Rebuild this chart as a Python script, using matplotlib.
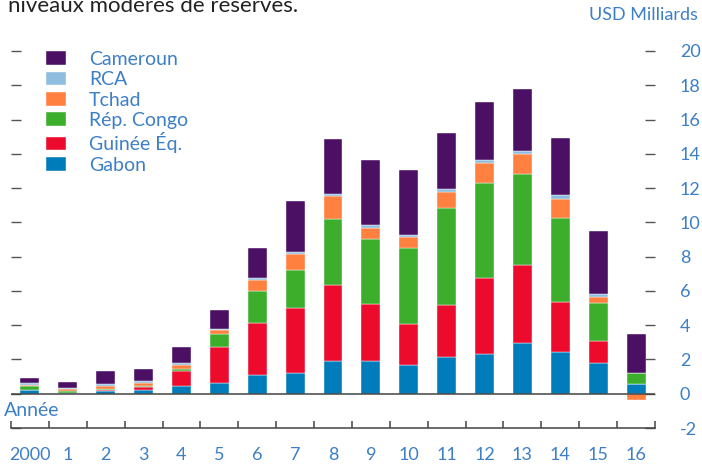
import numpy as np
import matplotlib
matplotlib.use("Agg")
import matplotlib.pyplot as plt

plt.rcParams['font.family'] = ['Lato', 'DejaVu Sans']
plt.rcParams['axes.unicode_minus'] = False

# Data (USD milliards)
years = list(range(2000, 2017))
year_labels = ['2000', '1', '2', '3', '4', '5', '6', '7', '8', '9', '10',
               '11', '12', '13', '14', '15', '16']

gabon = [0.19, 0.02, 0.17, 0.19, 0.43, 0.62, 1.10, 1.20, 1.89, 1.92, 1.69,
         2.14, 2.31, 2.97, 2.43, 1.80, 0.54]
guinee_eq = [0.01, 0.05, 0.06, 0.18, 0.91, 2.11, 3.03, 3.83, 4.43, 3.31, 2.39,
             3.03, 4.45, 4.57, 2.93, 1.25, 0.0]
congo = [0.25, 0.06, 0.06, 0.07, 0.13, 0.73, 1.89, 2.20, 3.88, 3.81, 4.43,
         5.66, 5.53, 5.29, 4.92, 2.23, 0.66]
tchad = [0.08, 0.12, 0.14, 0.18, 0.23, 0.25, 0.60, 0.91, 1.35, 0.64, 0.61,
         0.97, 1.16, 1.17, 1.09, 0.37, -0.35]
rca = [0.12, 0.09, 0.11, 0.12, 0.12, 0.09, 0.12, 0.12, 0.11, 0.15, 0.17,
       0.17, 0.17, 0.17, 0.23, 0.19, 0.0]
cameroun = [0.29, 0.37, 0.76, 0.72, 0.91, 1.08, 1.76, 2.99, 3.19, 3.79, 3.79,
            3.25, 3.41, 3.59, 3.31, 3.63, 2.27]

series = [
    ('Gabon', gabon, '#017cba'),
    ('Guinée Éq.', guinee_eq, '#ec0a2d'),
    ('Rép. Congo', congo, '#3dae2b'),
    ('Tchad', tchad, '#ff803f'),
    ('RCA', rca, '#8ebde0'),
    ('Cameroun', cameroun, '#4b0f64'),
]

blue_txt = '#3d7fc6'
tick_col = '#444444'

fig = plt.figure(figsize=(7.02, 4.65), dpi=100)
ax = fig.add_axes([11 / 702, 37 / 465, 644 / 702, 377 / 465])

x = np.arange(len(years))
pos_bottom = np.zeros(len(years))
neg_bottom = np.zeros(len(years))
for name, vals, color in series:
    vals = np.array(vals)
    bottom = np.where(vals >= 0, pos_bottom, neg_bottom)
    ax.bar(x, vals, 0.5, bottom=bottom, color=color, label=name,
           edgecolor='white', linewidth=0.3)
    pos_bottom += np.clip(vals, 0, None)
    neg_bottom += np.clip(vals, None, 0)

ax.axhline(0, color=tick_col, lw=1.1, zorder=3)

ax.set_xlim(-0.5, len(years) - 0.5)
ax.set_ylim(-2, 20)

for s in ['top', 'left', 'right']:
    ax.spines[s].set_visible(False)
ax.spines['bottom'].set_color(tick_col)
ax.spines['bottom'].set_linewidth(1.1)

# x axis: tick marks between bars, labels under bars
ax.set_xticks(np.arange(-0.5, len(years), 1.0))
ax.set_xticklabels([])
ax.set_xticks(x, minor=True)
ax.set_xticklabels(year_labels, minor=True)
ax.tick_params(axis='x', which='major', direction='in', length=5, width=1.1,
               color=tick_col)
ax.tick_params(axis='x', which='minor', length=0, pad=14, labelsize=13,
               labelcolor=blue_txt)

# y axis: labels on the right, tick marks inside on both sides
ax.set_yticks(np.arange(-2, 21, 2))
ax.tick_params(axis='y', which='major', direction='in', length=7.5, width=1,
               color='#555555', left=True, right=True, labelleft=False,
               labelright=True, pad=18, labelsize=13, labelcolor=blue_txt)
for lbl in ax.get_yticklabels():
    lbl.set_horizontalalignment('left')

handles, labels = ax.get_legend_handles_labels()
ax.legend(handles[::-1], labels[::-1], loc='upper left',
          bbox_to_anchor=(46 / 702, 1 - 51 / 465), bbox_transform=fig.transFigure,
          frameon=False, borderpad=0, borderaxespad=0, fontsize=14,
          handlelength=1.05, handleheight=0.7, handletextpad=1.15,
          labelspacing=0.17, labelcolor=blue_txt)

fig.text(698 / 702, 1 - 15 / 465, 'USD Milliards', ha='right', va='center',
         color=blue_txt, fontsize=13)
fig.text(4 / 702, 1 - 410 / 465, 'Année', ha='left', va='center',
         color=blue_txt, fontsize=14)
fig.text(8 / 702, 1 - 12 / 465, 'niveaux modérés de réserves.', ha='left',
         va='baseline', color='#222222', fontsize=16)

fig.savefig('out.png', dpi=100)
